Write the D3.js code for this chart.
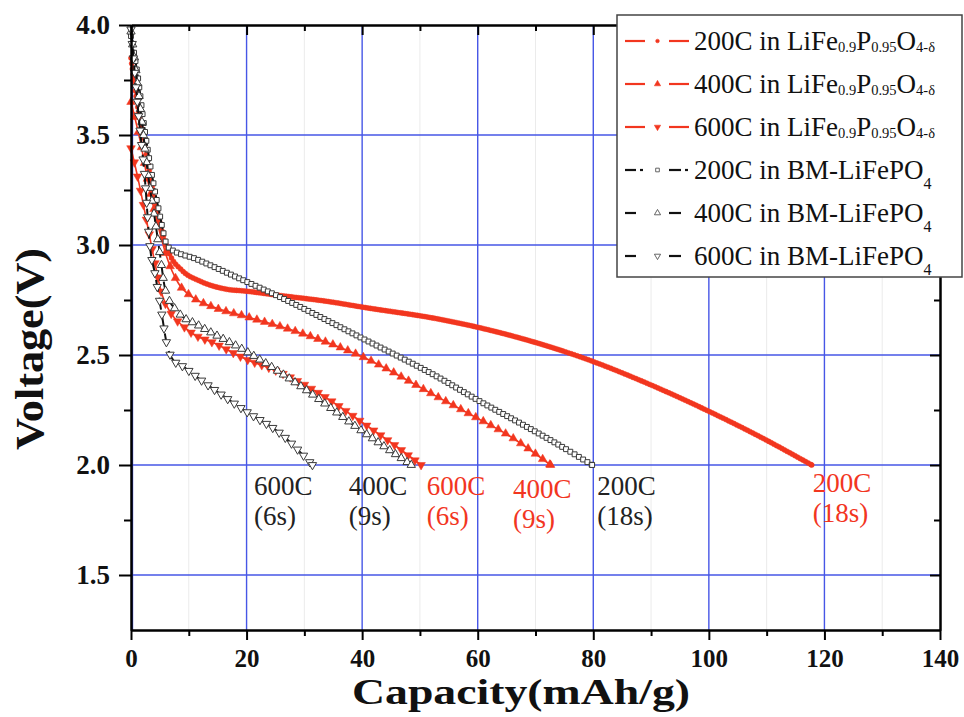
<!DOCTYPE html>
<html>
<head>
<meta charset="utf-8">
<script src="https://cdn.jsdelivr.net/npm/d3@7"></script>
<style>
  html, body { margin: 0; padding: 0; background: #fff; }
  svg { display: block; }
  text { font-family: "Liberation Serif", "Times New Roman", serif; }
</style>
</head>
<body>
<svg id="chart" width="964" height="717"></svg>
<script>
// Discharge curves, [capacity mAh/g, voltage V]
const lfpo200 = [[0, 3.85], [0.98, 3.66], [2.42, 3.45], [3.86, 3.235], [5.3, 3.07], [6.75, 2.955],
  [8.77, 2.886], [12.2, 2.833], [16.3, 2.80], [20, 2.79], [25, 2.773], [34.4, 2.742], [40.2, 2.717],
  [53.5, 2.662], [60, 2.626], [68, 2.572], [75, 2.516], [80, 2.47], [88, 2.386], [100, 2.244],
  [108, 2.14], [117.8, 2.0]];
const lfpo400 = [[0, 3.65], [1.56, 3.477], [3.0, 3.28], [4.73, 3.083], [6.17, 2.947], [8.2, 2.826],
  [10.5, 2.765], [14, 2.72], [20, 2.674], [28.7, 2.606], [40.2, 2.49], [53.5, 2.303], [60, 2.212],
  [65, 2.14], [72.6, 2.0]];
const lfpo600 = [[0, 3.44], [1.27, 3.295], [2.7, 3.11], [4.15, 2.917], [5.3, 2.78], [6.9, 2.69],
  [9, 2.632], [10.5, 2.60], [14.3, 2.555], [20, 2.48], [25, 2.43], [30, 2.365], [35, 2.285],
  [40.2, 2.19], [46, 2.083], [50.2, 2.0]];
const bm200 = [[0, 3.95], [1.27, 3.75], [2.13, 3.57], [3.29, 3.37], [4.73, 3.17], [6.45, 2.99],
  [11.4, 2.935], [20, 2.833], [25, 2.773], [40, 2.576], [53.5, 2.394], [60, 2.295], [67.9, 2.182],
  [73.6, 2.098], [79.8, 2.0]];
const bm400 = [[0, 3.97], [0.7, 3.826], [1.85, 3.57], [3.0, 3.31], [4.15, 3.114], [5.0, 2.96],
  [6.0, 2.79], [8.3, 2.69], [11.5, 2.637], [20, 2.515], [28.7, 2.37], [40.2, 2.15], [48.5, 2.0]];
const bm600 = [[0, 3.98], [1.27, 3.6], [2.42, 3.295], [3.29, 2.99], [4.15, 2.87], [5.3, 2.69],
  [6.17, 2.553], [7.3, 2.477], [9.05, 2.447], [11.4, 2.40], [20, 2.242], [25.8, 2.144], [31.4, 2.0]];

// Axis ticks
const xMajor = [0, 20, 40, 60, 80, 100, 120, 140];
const xMinor = [10, 30, 50, 70, 90, 110, 130];
const yMajor = [1.5, 2.0, 2.5, 3.0, 3.5, 4.0];
const yMinor = [1.75, 2.25, 2.75, 3.25, 3.75];

// End-of-discharge notes: rate, pulse time, anchor capacity
const noteRates = ["600C", "400C", "600C", "400C", "200C", "200C"];
const noteTimes = ["(6s)", "(9s)", "(6s)", "(9s)", "(18s)", "(18s)"];
const noteCaps = [21.3, 37.7, 51.2, 66.1, 80.7, 118.0];
const noteRed = [false, false, true, true, false, true];

const RED = "#f2361f";
const BLUE = "#4656e6";

const svg = d3.select("#chart");
const m = { left: 131, right: 940, top: 25, bottom: 630 };

const x = d3.scaleLinear().domain([0, 140]).range([m.left, m.right]);
const y = d3.scaleLinear().domain([1.25, 4.0]).range([m.bottom, m.top]);

// Grid
const grid = svg.append("g");
grid.selectAll(".vminor").data(xMinor).join("line")
  .attr("x1", d => x(d)).attr("x2", d => x(d)).attr("y1", m.top).attr("y2", m.bottom)
  .attr("stroke", "#ebebeb").attr("stroke-width", 1);
grid.selectAll(".vmajor").data(xMajor.filter(d => d < 140)).join("line")
  .attr("x1", d => x(d) + (d === 0 ? 1.5 : 0)).attr("x2", d => x(d) + (d === 0 ? 1.5 : 0))
  .attr("y1", m.top).attr("y2", m.bottom)
  .attr("stroke", BLUE).attr("stroke-width", 1.4);
grid.selectAll(".hmajor").data(yMajor.filter(d => d < 4)).join("line")
  .attr("x1", m.left).attr("x2", m.right).attr("y1", d => y(d)).attr("y2", d => y(d))
  .attr("stroke", BLUE).attr("stroke-width", 1.4);

// Series styles
const series = [
  { data: lfpo200, color: RED, dash: null, sym: "circle", fill: RED, size: 20, step: 2.4, lw: 2.4 },
  { data: lfpo400, color: RED, dash: null, sym: "up", fill: RED, size: 32, step: 7.5, lw: 1.6 },
  { data: lfpo600, color: RED, dash: null, sym: "down", fill: RED, size: 32, step: 7.0, lw: 1.6 },
  { data: bm200, color: "#111", dash: "12 4 3 4", sym: "square", fill: "#fff", size: 24, step: 4.0, lw: 2 },
  { data: bm400, color: "#111", dash: "12 6", sym: "up", fill: "#fff", size: 30, step: 6.0, lw: 2 },
  { data: bm600, color: "#111", dash: "12 6", sym: "down", fill: "#fff", size: 30, step: 6.5, lw: 2 }
];

function symbolPath(kind, size) {
  const t = kind === "circle" ? d3.symbolCircle : kind === "square" ? d3.symbolSquare : d3.symbolTriangle;
  return d3.symbol().type(t).size(size)();
}

// Positions along a drawn path for repeated marker symbols
function alongPath(node, step, k) {
  const total = node.getTotalLength();
  let prev = node.getPointAtLength(0);
  const pts = [prev];
  let acc = 0;
  for (let s = 0.5; s <= total; s += 0.5) {
    const p = node.getPointAtLength(s);
    acc += Math.hypot(p.x - prev.x, (p.y - prev.y) * k);
    prev = p;
    if (acc >= step) { pts.push(p); acc = 0; }
  }
  pts.push(node.getPointAtLength(total));
  return pts;
}

const line = d3.line().x(d => x(d[0])).y(d => y(d[1])).curve(d3.curveMonotoneX);
const plot = svg.append("g");

series.forEach(s => {
  const g = plot.append("g");
  const p = g.append("path").datum(s.data).attr("d", line)
    .attr("fill", "none").attr("stroke", s.color).attr("stroke-width", s.lw)
    .attr("stroke-dasharray", s.dash);
  const pts = alongPath(p.node(), s.step, 0.45);
  const d = symbolPath(s.sym, s.size);
  g.selectAll("path.mk").data(pts).join("path").attr("class", "mk")
    .attr("d", d)
    .attr("transform", q => `translate(${q.x},${q.y})` + (s.sym === "down" ? " rotate(180)" : ""))
    .attr("fill", s.fill)
    .attr("stroke", s.fill === "#fff" ? "#3a3a3a" : s.color)
    .attr("stroke-width", s.fill === "#fff" ? 1 : 0.5);
});

// Axes
function styleAxis(size) {
  return g => {
    g.selectAll("path.domain").attr("stroke", "#000").attr("stroke-width", 2);
    g.selectAll(".tick line").attr("stroke", "#000").attr("stroke-width", 2);
    g.selectAll("text").attr("font-family", '"Liberation Serif","Times New Roman",serif')
      .attr("font-size", size).attr("font-weight", "bold").attr("fill", "#111");
  };
}
const fmt = d3.format(".1f");
svg.append("g").attr("transform", `translate(${m.left},0)`)
  .call(d3.axisLeft(y).tickValues(yMinor).tickSize(7).tickSizeOuter(0).tickFormat(""))
  .call(styleAxis(27));
svg.append("g").attr("transform", `translate(${m.left},0)`)
  .call(d3.axisLeft(y).tickValues(yMajor).tickSize(12).tickSizeOuter(0).tickPadding(9).tickFormat(fmt))
  .call(styleAxis(27));
svg.append("g").attr("transform", `translate(0,${m.bottom})`)
  .call(d3.axisBottom(x).tickValues(xMinor).tickSize(6).tickSizeOuter(0).tickFormat(""))
  .call(styleAxis(26));
svg.append("g").attr("transform", `translate(0,${m.bottom})`)
  .call(d3.axisBottom(x).tickValues(xMajor).tickSize(10).tickSizeOuter(0).tickPadding(9).tickFormat(d3.format("d")))
  .call(styleAxis(25));
svg.append("g").attr("transform", `translate(0,${m.top})`)
  .call(d3.axisTop(x).tickValues(xMinor).tickSize(-6).tickSizeOuter(0).tickFormat(""))
  .call(styleAxis(26));
svg.append("g").attr("transform", `translate(0,${m.top})`)
  .call(d3.axisTop(x).tickValues(xMajor).tickSize(-10).tickSizeOuter(0).tickFormat(""))
  .call(styleAxis(26));
svg.append("g").attr("transform", `translate(${m.right},0)`)
  .call(d3.axisRight(y).tickValues(yMinor).tickSize(-6).tickSizeOuter(0).tickFormat(""))
  .call(styleAxis(26));
svg.append("g").attr("transform", `translate(${m.right},0)`)
  .call(d3.axisRight(y).tickValues(yMajor).tickSize(-10).tickSizeOuter(0).tickFormat(""))
  .call(styleAxis(26));

// Axis titles
svg.append("text").attr("x", 521).attr("y", 704).attr("text-anchor", "middle")
  .attr("font-size", 36).attr("font-weight", "bold").attr("fill", "#111")
  .attr("textLength", 338).attr("lengthAdjust", "spacingAndGlyphs")
  .text("Capacity(mAh/g)");
svg.append("text").attr("transform", "translate(43,349) rotate(-90)").attr("text-anchor", "middle")
  .attr("font-size", 40).attr("font-weight", "bold").attr("fill", "#111")
  .attr("textLength", 202).attr("lengthAdjust", "spacingAndGlyphs")
  .text("Voltage(V)");

// End-of-discharge notes
const notes = svg.append("g");
noteRates.forEach((r, i) => {
  const c = noteRed[i] ? RED : "#222";
  const dy = i === 5 ? -3 : (i === 3 ? 3 : 0);
  notes.append("text").attr("x", x(noteCaps[i])).attr("y", 495 + dy)
    .attr("font-size", 27).attr("fill", c).text(r);
  notes.append("text").attr("x", x(noteCaps[i])).attr("y", 525 + dy)
    .attr("font-size", 27).attr("fill", c).text(noteTimes[i]);
});

// Legend
const legendRows = [
  [["200C in LiFe", 0], ["0.9", 1], ["P", 0], ["0.95", 1], ["O", 0], ["4-δ", 1]],
  [["400C in LiFe", 0], ["0.9", 1], ["P", 0], ["0.95", 1], ["O", 0], ["4-δ", 1]],
  [["600C in LiFe", 0], ["0.9", 1], ["P", 0], ["0.95", 1], ["O", 0], ["4-δ", 1]],
  [["200C in BM-LiFePO", 0], ["4", 2]],
  [["400C in BM-LiFePO", 0], ["4", 2]],
  [["600C in BM-LiFePO", 0], ["4", 2]]
];
const subShift = [0, 2, 10];
const lg = svg.append("g");
lg.append("rect").attr("x", 617).attr("y", 15).attr("width", 345).attr("height", 262)
  .attr("fill", "#fff").attr("stroke", "#444").attr("stroke-width", 1.5);

legendRows.forEach((parts, i) => {
  const s = series[i];
  const cy = 41 + i * 43;
  const segs = s.dash === null ? [[625, 645], [669, 689]]
    : s.dash === "12 4 3 4" ? [[625, 636], [640, 643], [669, 681], [685, 688]]
    : [[625, 636], [669, 681]];
  segs.forEach(sg => lg.append("line").attr("x1", sg[0]).attr("x2", sg[1]).attr("y1", cy).attr("y2", cy)
    .attr("stroke", s.color).attr("stroke-width", 2.2));
  lg.append("path").attr("d", symbolPath(s.sym, s.size * 0.55))
    .attr("transform", `translate(657.5,${cy})` + (s.sym === "down" ? " rotate(180)" : ""))
    .attr("fill", s.fill).attr("stroke", s.fill === "#fff" ? "#555" : s.color)
    .attr("stroke-width", s.fill === "#fff" ? 0.9 : 0.5);
  const t = lg.append("text").attr("x", 694).attr("y", cy + 9).attr("fill", "#111");
  let shift = 0;
  parts.forEach(p => {
    const ts = t.append("tspan").text(p[0]);
    if (p[1] > 0) {
      ts.attr("font-size", p[1] === 1 ? 14.5 : 16).attr("dy", subShift[p[1]] - shift);
      shift = subShift[p[1]];
    } else {
      ts.attr("font-size", 27);
      if (shift !== 0) { ts.attr("dy", -shift); shift = 0; }
    }
  });
});
</script>
</body>
</html>
